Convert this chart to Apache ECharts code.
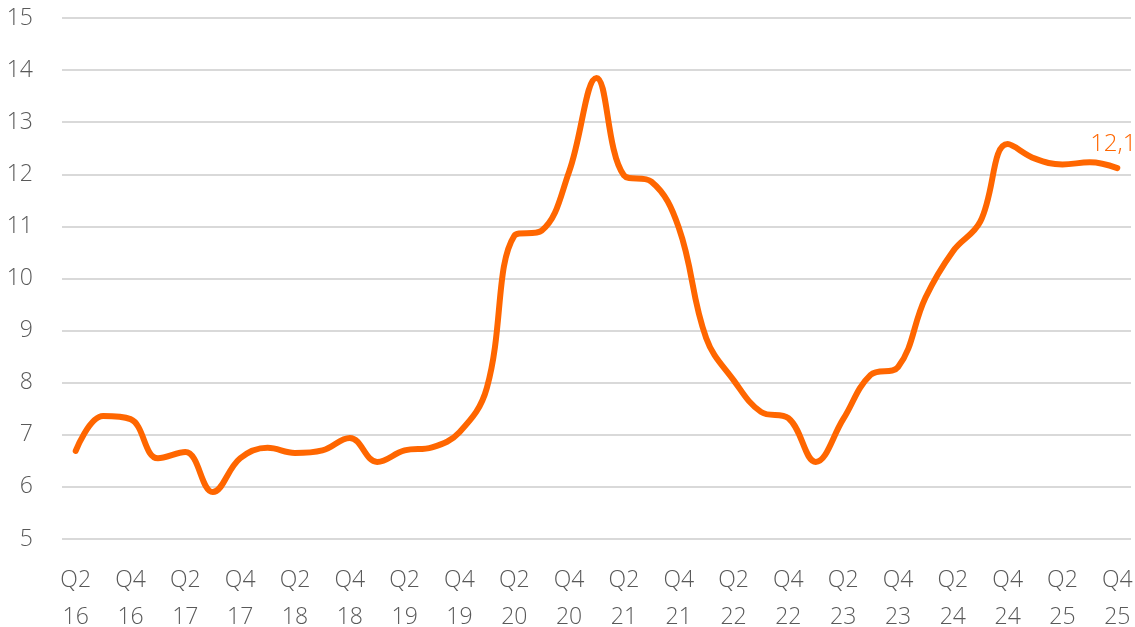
<!DOCTYPE html>
<html>
<head>
<meta charset="utf-8">
<script src="https://cdn.jsdelivr.net/npm/echarts@6/dist/echarts.min.js"></script>
<style>
  html, body { margin: 0; padding: 0; background: #fff; }
  #chart { width: 1135px; height: 627px; }
</style>
</head>
<body>
<div id="chart"></div>
<script>
// quarters Q2 16 .. Q4 25
const quarters = [
  'Q2 16', 'Q3 16', 'Q4 16',
  'Q1 17', 'Q2 17', 'Q3 17', 'Q4 17',
  'Q1 18', 'Q2 18', 'Q3 18', 'Q4 18',
  'Q1 19', 'Q2 19', 'Q3 19', 'Q4 19',
  'Q1 20', 'Q2 20', 'Q3 20', 'Q4 20',
  'Q1 21', 'Q2 21', 'Q3 21', 'Q4 21',
  'Q1 22', 'Q2 22', 'Q3 22', 'Q4 22',
  'Q1 23', 'Q2 23', 'Q3 23', 'Q4 23',
  'Q1 24', 'Q2 24', 'Q3 24', 'Q4 24',
  'Q1 25', 'Q2 25', 'Q3 25', 'Q4 25'
]
const values = [
  6.69, 7.36, 7.3,
  6.55, 6.67, 5.9, 6.55,
  6.75, 6.65, 6.7, 6.94,
  6.48, 6.7, 6.76, 7.05,
  7.9, 10.82, 10.92, 12.05,
  13.85, 11.98, 11.86, 10.98,
  8.86, 8.05, 7.44, 7.32,
  6.48, 7.3, 8.15, 8.3,
  9.63, 10.52, 11.09, 12.58,
  12.3, 12.19, 12.23, 12.12
]
const yMin = 5
const yMax = 15
const lastLabel = '12,1'

const chart = echarts.init(document.getElementById('chart'))
const orange = '#ff6600'
const textFont = '"Open Sans", "Noto Sans", sans-serif'

chart.setOption({
  animation: false,
  grid: { left: 62, right: 4, top: 18, bottom: 88, containLabel: false, outerBoundsMode: 'none' },
  xAxis: {
    type: 'category',
    boundaryGap: true,
    data: quarters,
    axisLine: { show: false },
    axisTick: { show: false },
    axisLabel: {
      interval: 1,
      color: '#595959',
      fontSize: 23,
      fontWeight: 300,
      fontFamily: textFont,
      lineHeight: 37,
      margin: 23,
      formatter: (v) => v.replace(' ', '\n'),
    },
  },
  yAxis: {
    type: 'value',
    min: yMin,
    max: yMax,
    interval: 1,
    axisLine: { show: false },
    axisTick: { show: false },
    axisLabel: {
      color: '#595959',
      fontSize: 23,
      fontWeight: 300,
      fontFamily: textFont,
      margin: 29,
    },
    splitLine: { lineStyle: { color: '#d9d9d9', width: 2 } },
  },
  series: [{
    type: 'line',
    data: values.map((v, i) => i === values.length - 1
      ? {
          value: v,
          label: {
            show: true,
            position: 'top',
            distance: 12,
            offset: [-4, 0],
            formatter: lastLabel,
            color: orange,
            fontSize: 24,
            fontWeight: 300,
            fontFamily: textFont,
          },
        }
      : v),
    smooth: 0.4,
    symbol: 'circle',
    symbolSize: 0,
    showSymbol: true,
    lineStyle: { color: orange, width: 6, cap: 'round' },
    itemStyle: { color: orange },
  }],
})
</script>
</body>
</html>
